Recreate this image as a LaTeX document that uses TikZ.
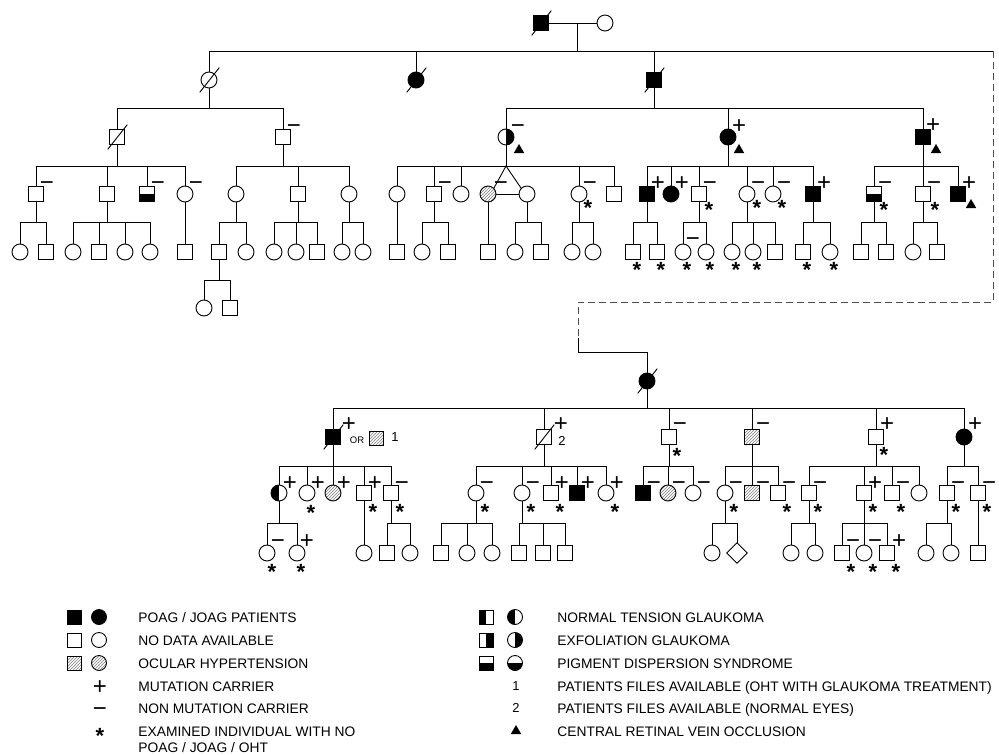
\documentclass[tikz,border=0pt]{standalone}
\usepackage{fontspec}
\setmainfont{Liberation Sans}
\usepackage{tikz}
\usetikzlibrary{calc}
\usetikzlibrary{patterns}
\usetikzlibrary{shapes.geometric}

\tikzset{
  person/.style={draw, inner sep=0pt, line width=0.9pt},
  male/.style={person, rectangle, minimum size=15pt},
  female/.style={person, circle, minimum size=16pt},
  unknown/.style={person, diamond, minimum size=21pt},
  aff/.style={fill=black},
  oht/.style={pattern=north east lines, pattern color=gray},
  pds/.style={path picture={\fill (path picture bounding box.west) rectangle (path picture bounding box.south east);}},
  ntg/.style={path picture={\fill (path picture bounding box.north west) rectangle (path picture bounding box.south);}},
  exf/.style={path picture={\fill (path picture bounding box.north) rectangle (path picture bounding box.south east);}},
  legsq/.style={minimum size=14pt},
  legci/.style={minimum size=15pt},
  sgn/.style={inner sep=0pt, text height=16pt, text depth=0pt, font=\fontsize{24}{24}\selectfont},
  ast/.style={inner sep=0pt, text height=25pt, text depth=0pt, font=\bfseries\fontsize{22}{22}\selectfont},
  tri/.style={regular polygon, regular polygon sides=3, fill=black, inner sep=0pt, minimum size=12pt},
  note/.style={inner sep=0pt, font=\fontsize{13}{13}\selectfont},
  lgd/.style={anchor=west, inner sep=0pt, text height=10pt, text depth=0pt, font=\fontsize{13.8}{16}\selectfont},
  brk/.style={gray!60!black, dash pattern=on 7pt off 4pt},
}

\newcommand{\dead}[1]{\draw ($(#1)+(-9,12)$) -- ($(#1)+(10,-12)$);}
\newcommand{\mut}[2][(11,-12)]{\node[sgn] (#2-g) at ($(#2)+#1$) {+};}
\newcommand{\nomut}[2][(11,-12)]{\node[sgn] (#2-g) at ($(#2)+#1$) {−};}
\newcommand{\exam}[2][(10,11)]{\node[ast] (#2-e) at ($(#2)+#1$) {*};}
\newcommand{\crvo}[2][(13,13)]{\node[tri] (#2-t) at ($(#2)+#1$) {};}
\newcommand{\sibship}[5]{%
  \draw (#1.south) -- (#1 |- #2);
  \draw (#3 |- #2) -- (#4 |- #2);
  \foreach \c in {#5} {\draw (\c.north) -- (\c |- #2);}}

\begin{document}
\begin{tikzpicture}[x=1pt, y=-1pt, line width=0.9pt, line cap=rect]
\useasboundingbox (0,0) rectangle (999,755);

% levels of the sibship lines
\coordinate (lA) at (0,51);
\coordinate (lB) at (0,108);
\coordinate (lC) at (0,166);
\coordinate (lD) at (0,222);
\coordinate (lE) at (0,280);
\coordinate (lF) at (0,408);
\coordinate (lG) at (0,466);
\coordinate (lH) at (0,523);

%%% upper family
\node[male,aff] (t11) at (541,23) {};
\node[female] (t12) at (605,23) {};
\dead{t11}
\coordinate (t1m) at (577,23);
\draw (t11) -- (t12);
\draw (t1m) -- (t1m |- lA);

\node[female] (t21) at (209,80) {};
\node[female,aff] (t22) at (416,80) {};
\node[male,aff] (t23) at (654,80) {};
\dead{t21} \dead{t22} \dead{t23}
\coordinate (tbr) at (993,51);
\draw (t21 |- lA) -- (tbr);
\foreach \c in {t21,t22,t23} {\draw (\c.north) -- (\c |- lA);}

% generation 3
\node[male] (t31) at (117,137) {};
\node[male] (t32) at (283,137) {};
\node[female,exf] (t33) at (506,137) {};
\node[female,aff] (t34) at (728,137) {};
\node[male,aff] (t35) at (923,137) {};
\dead{t31}
\nomut{t32} \nomut[(12,-12)]{t33} \crvo{t33}
\mut{t34} \crvo[(11,13)]{t34}
\mut[(10,-13)]{t35} \crvo{t35}
\sibship{t21}{lB}{t31}{t32}{t31,t32}
\sibship{t23}{lB}{t33}{t35}{t33,t34,t35}

% generation 4
\node[male] (t41) at (36,194) {};
\node[male] (t42) at (107,194) {};
\node[male,pds] (t43) at (147,194) {};
\node[female] (t44) at (185,194) {};
\node[female] (t45) at (236,194) {};
\node[male] (t46) at (298,194) {};
\node[female] (t47) at (349,194) {};
\node[female] (t48) at (397,194) {};
\node[male] (t49) at (434,194) {};
\node[female] (t410) at (461,194) {};
\node[female,oht] (t411) at (488,194) {};
\node[female] (t412) at (527,194) {};
\node[female] (t413) at (579,194) {};
\node[male] (t414) at (614,194) {};
\node[male,aff] (t415) at (647,194) {};
\node[female,aff] (t416) at (671,194) {};
\node[male] (t417) at (699,194) {};
\node[female] (t418) at (747,194) {};
\node[female] (t419) at (773,194) {};
\node[male,aff] (t420) at (813,194) {};
\node[male,pds] (t421) at (874,194) {};
\node[male] (t422) at (923,194) {};
\node[male,aff] (t423) at (958,194) {};
\nomut{t41} \nomut{t43} \nomut{t44} \nomut{t49}
\node[sgn] (twin-g) at (501,182) {−};
\nomut{t413} \exam[(9,9)]{t413}
\mut{t415} \mut{t416}
\nomut{t417} \exam{t417}
\nomut{t418} \exam[(10,9)]{t418}
\nomut{t419} \exam[(9,9)]{t419}
\mut{t420}
\nomut{t421} \exam{t421}
\nomut{t422} \exam[(12,11)]{t422}
\mut{t423} \crvo[(13,11)]{t423}
\sibship{t31}{lC}{t41}{t44}{t41,t42,t43,t44}
\sibship{t32}{lC}{t45}{t47}{t45,t46,t47}
\sibship{t33}{lC}{t48}{t414}{t48,t49,t410,t413,t414}
\draw (t411.north east) -- (t33 |- lC) -- (t412.north west);
\draw (t411.east) -- (t412.west);
\sibship{t34}{lC}{t415}{t420}{t415,t416,t417,t418,t419,t420}
\sibship{t35}{lC}{t421}{t423}{t421,t422,t423}

% generation 5
\node[female] (t51) at (20,252) {};
\node[male] (t52) at (46,252) {};
\node[female] (t53) at (73,252) {};
\node[male] (t54) at (99,252) {};
\node[female] (t55) at (125,252) {};
\node[female] (t56) at (150,252) {};
\node[male] (t57) at (185,252) {};
\node[male] (t58) at (219,252) {};
\node[female] (t59) at (246,252) {};
\node[female] (t510) at (274,252) {};
\node[female] (t511) at (296,252) {};
\node[male] (t512) at (317,252) {};
\node[female] (t513) at (342,252) {};
\node[female] (t514) at (363,252) {};
\node[male] (t515) at (397,252) {};
\node[female] (t516) at (422,252) {};
\node[male] (t517) at (448,252) {};
\node[male] (t518) at (488,252) {};
\node[female] (t519) at (515,252) {};
\node[male] (t520) at (541,252) {};
\node[female] (t521) at (572,252) {};
\node[female] (t522) at (593,252) {};
\node[male] (t523) at (633,252) {};
\node[male] (t524) at (657,252) {};
\node[female] (t525) at (683,252) {};
\node[female] (t526) at (706,252) {};
\node[female] (t527) at (732,252) {};
\node[female] (t528) at (753,252) {};
\node[male] (t529) at (775,252) {};
\node[male] (t530) at (803,252) {};
\node[female] (t531) at (830,252) {};
\node[male] (t532) at (861,252) {};
\node[male] (t533) at (886,252) {};
\node[female] (t534) at (913,252) {};
\node[male] (t535) at (937,252) {};
\foreach \c in {t523,t524,t525,t526,t527,t528,t530,t531} {\exam[(4,13)]{\c}}
\nomut[(10,-14)]{t525}
\sibship{t41}{lD}{t51}{t52}{t51,t52}
\sibship{t42}{lD}{t53}{t56}{t53,t54,t55,t56}
\draw (t44.south) -- (t57.north);
\sibship{t45}{lD}{t58}{t59}{t58,t59}
\sibship{t46}{lD}{t510}{t512}{t510,t511,t512}
\sibship{t47}{lD}{t513}{t514}{t513,t514}
\draw (t48.south) -- (t515.north);
\sibship{t49}{lD}{t516}{t517}{t516,t517}
\draw (t411.south) -- (t518.north);
\sibship{t412}{lD}{t519}{t520}{t519,t520}
\sibship{t413}{lD}{t521}{t522}{t521,t522}
\sibship{t415}{lD}{t523}{t524}{t523,t524}
\sibship{t417}{lD}{t525}{t526}{t525,t526}
\sibship{t418}{lD}{t527}{t529}{t527,t528,t529}
\sibship{t420}{lD}{t530}{t531}{t530,t531}
\sibship{t421}{lD}{t532}{t533}{t532,t533}
\sibship{t422}{lD}{t534}{t535}{t534,t535}

% generation 6
\node[female] (t61) at (204,308) {};
\node[male] (t62) at (230,308) {};
\sibship{t58}{lE}{t61}{t62}{t61,t62}

%%% lower branch, joined by the dashed line
\coordinate (d1) at (993,302);
\coordinate (d2) at (578,302);
\coordinate (d3) at (578,338);
\coordinate (d4) at (578,352);
\draw[brk] (tbr) -- (d1) -- (d2) -- (d3);
\node[female,aff] (b0) at (647,381) {};
\dead{b0}
\draw (d3) -- (d4) -| (b0.north);

\node[male,aff] (b11) at (333,437) {};
\node[male] (b12) at (544,437) {};
\node[male] (b13) at (669,437) {};
\node[male,oht] (b14) at (752,437) {};
\node[male] (b15) at (876,437) {};
\node[female,aff] (b16) at (964,437) {};
\dead{b11} \dead{b12}
\mut[(16,-14)]{b11}
\node[note, font=\fontsize{9.5}{10}\selectfont] (b11-or) at (357,440) {OR};
\node[male,oht,minimum size=14pt] (b11-alt) at (376,438) {};
\node[note] (b11-n) at (395,437) {1};
\mut[(17,-14)]{b12}
\node[note] (b12-n) at (562,441) {2};
\nomut[(11,-14)]{b13} \exam[(8,14)]{b13}
\nomut[(11,-14)]{b14}
\mut[(11,-14)]{b15} \exam[(8,13)]{b15}
\mut[(11,-14)]{b16}
\sibship{b0}{lF}{b11}{b16}{b11,b12,b13,b14,b15,b16}

% second generation of the branch
\node[female,ntg] (b21) at (279,493) {};
\node[female] (b22) at (307,493) {};
\node[female,oht] (b23) at (333,493) {};
\node[male] (b24) at (364,493) {};
\node[male] (b25) at (391,493) {};
\node[female] (b26) at (476,493) {};
\node[female] (b27) at (522,493) {};
\node[male] (b28) at (551,493) {};
\node[male,aff] (b29) at (577,493) {};
\node[female] (b210) at (606,493) {};
\node[male,aff] (b211) at (643,493) {};
\node[female,oht] (b212) at (668,493) {};
\node[female] (b213) at (693,493) {};
\node[female] (b214) at (725,493) {};
\node[male,oht] (b215) at (752,493) {};
\node[male] (b216) at (778,493) {};
\node[male] (b217) at (809,493) {};
\node[male] (b218) at (864,493) {};
\node[male] (b219) at (892,493) {};
\node[female] (b220) at (919,493) {};
\node[male] (b221) at (947,493) {};
\node[male] (b222) at (978,493) {};
\foreach \c in {b21,b22,b23,b24,b28,b29,b210,b218} {\mut[(11,-11)]{\c}}
\foreach \c in {b25,b26,b27,b211,b212,b213,b214,b215,b216,b217,b219,b221,b222} {\nomut[(11,-11)]{\c}}
\exam[(4,15)]{b22}
\foreach \c in {b24,b25,b26,b27,b28,b210,b214,b216,b217,b218,b219,b221,b222} {\exam[(9,14)]{\c}}
\sibship{b11}{lG}{b21}{b25}{b21,b22,b23,b24,b25}
\sibship{b12}{lG}{b26}{b210}{b26,b27,b28,b29,b210}
\sibship{b13}{lG}{b211}{b213}{b211,b212,b213}
\sibship{b14}{lG}{b214}{b216}{b214,b215,b216}
\sibship{b15}{lG}{b217}{b220}{b217,b218,b219,b220}
\sibship{b16}{lG}{b221}{b222}{b221,b222}

% third generation of the branch
\node[female] (b31) at (267,553) {};
\node[female] (b32) at (297,553) {};
\node[female] (b33) at (364,553) {};
\node[male] (b34) at (387,553) {};
\node[female] (b35) at (410,553) {};
\node[male] (b36) at (441,553) {};
\node[female] (b37) at (467,553) {};
\node[female] (b38) at (492,553) {};
\node[male] (b39) at (519,553) {};
\node[male] (b310) at (543,553) {};
\node[male] (b311) at (565,553) {};
\node[female] (b312) at (712,553) {};
\node[unknown] (b313) at (737,553) {};
\node[female] (b314) at (791,553) {};
\node[female] (b315) at (815,553) {};
\node[male] (b316) at (842,553) {};
\node[female] (b317) at (864,553) {};
\node[male] (b318) at (887,553) {};
\node[female] (b319) at (926,553) {};
\node[female] (b320) at (951,553) {};
\node[male] (b321) at (978,553) {};
\nomut[(11,-13)]{b31} \mut[(10,-13)]{b32}
\nomut[(11,-13)]{b316} \nomut[(11,-13)]{b317} \mut[(12,-13)]{b318}
\exam[(5,14)]{b31} \exam[(4,14)]{b32}
\foreach \c in {b316,b317,b318} {\exam[(9,14)]{\c}}
\sibship{b21}{lH}{b31}{b32}{b31,b32}
\draw (b24.south) -- (b33.north);
\sibship{b25}{lH}{b34}{b35}{b34,b35}
\sibship{b26}{lH}{b36}{b38}{b36,b37,b38}
\sibship{b27}{lH}{b39}{b311}{b39,b310,b311}
\sibship{b214}{lH}{b312}{b313}{b312,b313}
\sibship{b217}{lH}{b314}{b315}{b314,b315}
\sibship{b218}{lH}{b316}{b318}{b316,b317,b318}
\sibship{b221}{lH}{b319}{b320}{b319,b320}
\draw (b222.south) -- (b321.north);

%%% legend
\node[male,aff,legsq] (k1a) at (74,617) {};
\node[female,aff,legci] (k1b) at (99,617) {};
\node[lgd] (k1) at (138,617) {POAG / JOAG PATIENTS};
\node[male,legsq] (k2a) at (74,640) {};
\node[female,legci] (k2b) at (99,640) {};
\node[lgd] (k2) at (138,640) {NO DATA AVAILABLE};
\node[male,oht,legsq] (k3a) at (74,663) {};
\node[female,oht,legci] (k3b) at (99,663) {};
\node[lgd] (k3) at (138,663) {OCULAR HYPERTENSION};
\node[sgn] (k4a) at (100,686) {+};
\node[lgd] (k4) at (138,686) {MUTATION CARRIER};
\node[sgn] (k5a) at (100,708) {−};
\node[lgd] (k5) at (138,708) {NON MUTATION CARRIER};
\node[ast] (k6a) at (100,731) {*};
\node[lgd] (k6) at (138,731) {EXAMINED INDIVIDUAL WITH NO};
\node[lgd] (k6b) at (138,747) {POAG / JOAG / OHT};

\node[male,ntg,legsq] (k7a) at (486,617) {};
\node[female,ntg,legci] (k7b) at (515,617) {};
\node[lgd] (k7) at (557,617) {NORMAL TENSION GLAUKOMA};
\node[male,exf,legsq] (k8a) at (486,640) {};
\node[female,exf,legci] (k8b) at (515,640) {};
\node[lgd] (k8) at (557,640) {EXFOLIATION GLAUKOMA};
\node[male,pds,legsq] (k9a) at (486,663) {};
\node[female,pds,legci] (k9b) at (515,663) {};
\node[lgd] (k9) at (557,663) {PIGMENT DISPERSION SYNDROME};
\node[note] (k10a) at (516,686) {1};
\node[lgd] (k10) at (557,686) {PATIENTS FILES AVAILABLE (OHT WITH GLAUKOMA TREATMENT)};
\node[note] (k11a) at (516,708) {2};
\node[lgd] (k11) at (557,708) {PATIENTS FILES AVAILABLE (NORMAL EYES)};
\node[tri] (k12a) at (516,731) {};
\node[lgd] (k12) at (557,731) {CENTRAL RETINAL VEIN OCCLUSION};
\end{tikzpicture}
\end{document}
